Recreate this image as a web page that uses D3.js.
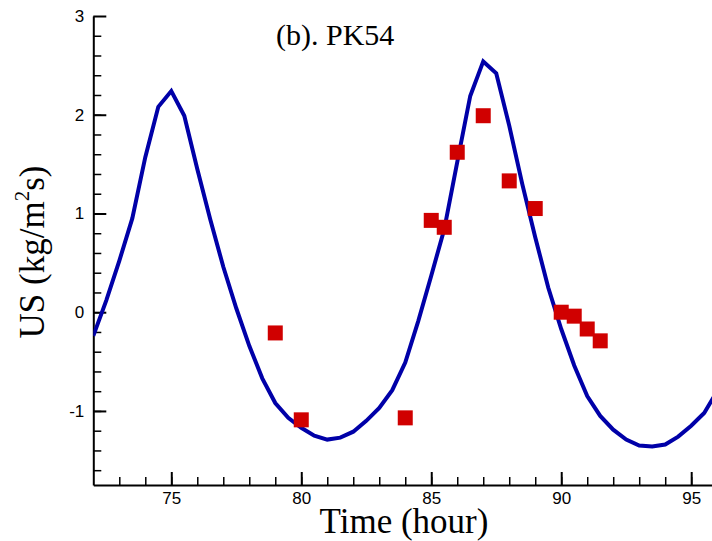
<!DOCTYPE html>
<html>
<head>
<meta charset="utf-8">
<script src="https://cdn.jsdelivr.net/npm/d3@7"></script>
<style>
  body { margin: 0; background: #fff; }
  svg { display: block; }
  .ttl { font-family: "Liberation Serif", "Times New Roman", serif; fill: #000; }
</style>
</head>
<body>
<svg id="chart" width="712" height="541"></svg>
<script>
// model curve, sampled every half hour
var simTime = [72, 72.5, 73, 73.5, 74, 74.5, 75, 75.5, 76, 76.5, 77, 77.5, 78, 78.5,
               79, 79.5, 80, 80.5, 81, 81.5, 82, 82.5, 83, 83.5, 84, 84.5, 85, 85.5,
               86, 86.5, 87, 87.5, 88, 88.5, 89, 89.5, 90, 90.5, 91, 91.5, 92, 92.5,
               93, 93.5, 94, 94.5, 95, 95.5, 96];
var simUS = [-0.24, 0.12, 0.52, 0.95, 1.57, 2.08, 2.24, 1.99, 1.45, 0.94, 0.46, 0.04, -0.34, -0.67,
             -0.92, -1.07, -1.17, -1.25, -1.29, -1.27, -1.21, -1.10, -0.97, -0.79, -0.51, -0.09, 0.37, 0.84,
             1.52, 2.19, 2.54, 2.42, 1.89, 1.30, 0.76, 0.25, -0.17, -0.54, -0.85, -1.05, -1.19, -1.29,
             -1.35, -1.36, -1.34, -1.26, -1.15, -1.02, -0.80];

// measured points
var obsTime = [79, 80, 84, 85, 85.5, 86, 87, 88, 89, 90, 90.5, 91, 91.5];
var obsUS = [-0.21, -1.09, -1.07, 0.93, 0.86, 1.62, 1.99, 1.33, 1.05, 0.00, -0.04, -0.17, -0.29];

var xMajor = [75, 80, 85, 90, 95];
var xMinor = d3.range(73, 96, 1);
var yMajor = [-1, 0, 1, 2, 3];
var yMinor = d3.range(-1.6, 3, 0.2);

var svg = d3.select('#chart');
var m = {left: 93.3, right: 712, top: 16, bottom: 485};

var x = d3.scaleLinear().domain([72, 95.8]).range([m.left, m.right]);
var y = d3.scaleLinear().domain([-1.75, 3]).range([m.bottom, m.top]);

// plain hyphen for negatives, like the original plot
var fmt = function(d) { return String(d); };

svg.append('defs').append('clipPath')
    .attr('id', 'plot')
  .append('rect')
    .attr('x', m.left)
    .attr('y', 0)
    .attr('width', m.right - m.left)
    .attr('height', m.bottom)
;

// minor ticks first, then major axes on top
svg.append('g')
    .attr('transform', 'translate(0,' + m.bottom + ')')
    .call(d3.axisBottom(x).tickValues(xMinor).tickSize(-8).tickSizeOuter(0).tickFormat(''))
    .call(function(g) { g.select('.domain').remove(); })
    .selectAll('line').attr('stroke-width', 1.5)
;
svg.append('g')
    .attr('transform', 'translate(' + m.left + ',0)')
    .call(d3.axisLeft(y).tickValues(yMinor).tickSize(-8).tickSizeOuter(0).tickFormat(''))
    .call(function(g) { g.select('.domain').remove(); })
    .selectAll('line').attr('stroke-width', 1.5)
;

var xAxis = svg.append('g')
    .attr('transform', 'translate(0,' + m.bottom + ')')
    .call(d3.axisBottom(x).tickValues(xMajor).tickSize(-13).tickSizeOuter(0).tickPadding(7).tickFormat(fmt))
;
var yAxis = svg.append('g')
    .attr('transform', 'translate(' + m.left + ',0)')
    .call(d3.axisLeft(y).tickValues(yMajor).tickSize(-13).tickSizeOuter(0).tickPadding(9).tickFormat(fmt))
;
[xAxis, yAxis].forEach(function(g) {
  g.select('.domain').attr('stroke-width', 2);
  g.selectAll('line').attr('stroke-width', 2);
  g.selectAll('text')
    .attr('font-family', '"Liberation Sans", Arial, sans-serif')
    .attr('font-size', 17)
    .attr('fill', '#000');
});

var line = d3.line()
    .x(function(d, i) { return x(simTime[i]); })
    .y(function(d) { return y(d); })
;

svg.append('path')
    .datum(simUS)
    .attr('clip-path', 'url(#plot)')
    .attr('d', line)
    .attr('fill', 'none')
    .attr('stroke', '#0000a8')
    .attr('stroke-width', 4)
    .attr('stroke-linejoin', 'miter')
;

svg.append('g')
    .selectAll('rect')
    .data(obsUS)
    .enter().append('rect')
    .attr('x', function(d, i) { return x(obsTime[i]) - 7.5; })
    .attr('y', function(d) { return y(d) - 7.5; })
    .attr('width', 15)
    .attr('height', 15)
    .attr('fill', '#d00000')
;

// titles
svg.append('text')
    .attr('class', 'ttl')
    .attr('x', 276)
    .attr('y', 45)
    .attr('font-size', 30)
    .text('(b). PK54')
;

svg.append('text')
    .attr('class', 'ttl')
    .attr('x', 404)
    .attr('y', 533)
    .attr('text-anchor', 'middle')
    .attr('font-size', 35)
    .text('Time (hour)')
;

var yt = svg.append('text')
    .attr('class', 'ttl')
    .attr('transform', 'translate(44,252) rotate(-90)')
    .attr('text-anchor', 'middle')
    .attr('font-size', 35)
;
yt.append('tspan').text('US (kg/m');
yt.append('tspan').attr('font-size', 21).attr('dy', -15).text('2');
yt.append('tspan').attr('dy', 15).text('s)');
</script>
</body>
</html>
